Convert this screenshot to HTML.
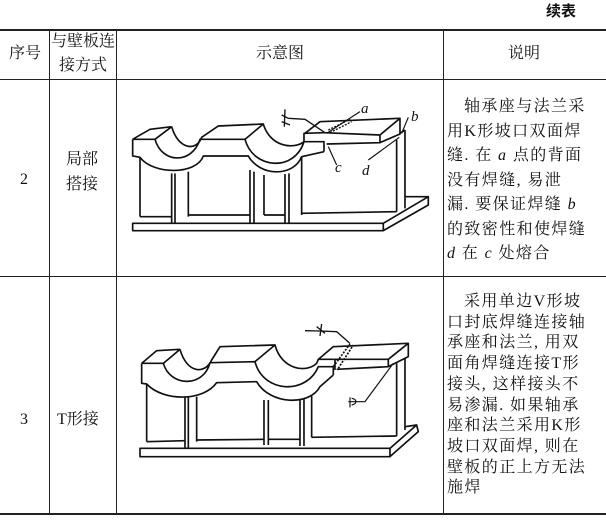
<!DOCTYPE html>
<html><head><meta charset="utf-8"><style>
body{margin:0;width:606px;height:520px;background:#fff;position:relative;overflow:hidden;font-family:"Liberation Serif","Noto Serif CJK SC","Noto Sans CJK SC",serif;color:#111}
.t{position:absolute;white-space:nowrap;line-height:1}
.h{position:absolute;background:#222}
</style></head><body>
<div class="t" style="left:546px;top:4px;font-size:15px;font-weight:bold;font-family:'Liberation Sans','Noto Sans CJK SC',sans-serif">续表</div>
<div class="h" style="left:0;top:29px;width:606px;height:2px"></div>
<div class="h" style="left:0;top:79px;width:606px;height:1px"></div>
<div class="h" style="left:0;top:276px;width:606px;height:1px"></div>
<div class="h" style="left:0;top:513px;width:606px;height:2px"></div>
<div class="h" style="left:49px;top:30px;width:1px;height:484px"></div>
<div class="h" style="left:116px;top:30px;width:1px;height:484px"></div>
<div class="h" style="left:443px;top:30px;width:1px;height:484px"></div>

<div class="t" style="left:9px;top:46px;font-size:16px">序号</div>
<div class="t" style="left:51px;top:34px;font-size:16px">与壁板连</div>
<div class="t" style="left:59px;top:58px;font-size:16px">接方式</div>
<div class="t" style="left:256px;top:46px;font-size:16px">示意图</div>
<div class="t" style="left:508px;top:46px;font-size:16px">说明</div>

<div class="t" style="left:20px;top:172px;font-size:16px">2</div>
<div class="t" style="left:66px;top:152px;font-size:16px">局部</div>
<div class="t" style="left:66px;top:177px;font-size:16px">搭接</div>
<div class="t" style="left:20px;top:412px;font-size:16px">3</div>
<div class="t" style="left:57px;top:412px;font-size:16px">T形接</div>

<div style="position:absolute;left:447px;top:95px;font-size:16px;line-height:24.5px;letter-spacing:1.4px;width:156px">
<div style="padding-left:17px">轴承座与法兰采</div>
<div>用K形坡口双面焊</div>
<div>缝. 在 <i>a</i> 点的背面</div>
<div>没有焊缝, 易泄</div>
<div>漏. 要保证焊缝 <i>b</i></div>
<div>的致密性和使焊缝</div>
<div><i>d</i> 在 <i>c</i> 处熔合</div>
</div>
<div style="position:absolute;left:447px;top:292px;font-size:16px;line-height:20.7px;letter-spacing:1.4px;width:156px">
<div style="padding-left:17px">采用单边V形坡</div>
<div>口封底焊缝连接轴</div>
<div>承座和法兰, 用双</div>
<div>面角焊缝连接T形</div>
<div>接头, 这样接头不</div>
<div>易渗漏. 如果轴承</div>
<div>座和法兰采用K形</div>
<div>坡口双面焊, 则在</div>
<div>壁板的正上方无法</div>
<div>施焊</div>
</div>

<svg width="606" height="520" style="position:absolute;left:0;top:0" fill="none" stroke="#111" stroke-width="5" stroke-linejoin="round">
<g transform="translate(120,80) scale(0.3333)">
<path d="M38,178 L38,228 L60,232 L60,410 M38,178 L90,148 L155,140 M38,178 L105,178 L155,140"/>
<path d="M105,178 C125,250 215,255 240,178 L375,178 C400,270 525,275 552,185 L612,185 L612,215"/>
<path d="M155,140 C175,210 230,215 245,172 L295,138 L430,132 L375,178 M430,132 C450,200 520,210 552,185 L552,160 L612,158"/>
<path d="M60,232 C100,285 230,285 250,228 L385,228 C420,290 520,292 545,230 L612,215"/>
<path d="M155,280 L155,430 M165,280 L165,430 M205,275 L205,410 M390,270 L390,430 M402,275 L402,430 M432,285 L432,405 M495,282 L495,430 M507,280 L507,430 M545,230 L545,405"/>
<path d="M60,410 L155,410 M205,405 L390,405 M432,405 L495,405 M545,400 L830,395"/>
<path d="M555,160 L600,125 L840,115 L840,162 L780,188 L620,192 M612,158 L780,165 L840,115 M780,165 L780,188"/>
<path d="M830,180 L830,395 M855,150 L855,385 M840,160 L855,150"/>
<path d="M38,430 L790,430 L790,452 L38,452 Z M790,430 L925,350 L925,375 L790,452 M855,350 L925,350"/>
<path d="M485,105 L505,115 L555,118 L615,158 M495,88 L493,140 M485,125 L510,135" stroke-width="4"/>
<path d="M720,95 L620,160 M865,112 L845,160 M650,255 L625,200 M745,240 L838,172" stroke-width="3.5"/>
<path d="M625,150 L690,118 M630,158 L695,125" stroke-width="4" stroke-dasharray="6,4"/>
</g>
<g font-family="Liberation Serif,serif" font-style="italic" font-size="15" fill="#111" stroke="none">
<text x="361" y="113">a</text><text x="411" y="121">b</text><text x="335" y="172">c</text><text x="362" y="175">d</text>
</g>
<g transform="translate(120,320) scale(0.3333)">
<path d="M65,130 L65,190 L80,192 L80,365 M65,130 L110,92 L180,88 M65,130 L130,130 L180,88"/>
<path d="M130,130 C150,200 250,205 270,128 L405,125 C430,220 560,225 595,140 L640,140 L640,165"/>
<path d="M180,88 C200,160 255,165 275,120 L300,80 L465,75 L405,125 M465,75 C485,150 560,160 590,130 L595,118 L640,118"/>
<path d="M80,192 C130,245 250,245 290,188 L410,185 C450,255 570,258 600,200 L640,165"/>
<path d="M195,230 L195,385 M205,230 L205,385 M230,230 L230,365 M432,240 L432,375 M445,240 L445,375 M540,240 L540,378 M552,238 L552,378 M575,228 L575,352"/>
<path d="M80,365 L195,362 M230,360 L432,358 M445,358 L540,358 M575,352 L830,348"/>
<path d="M595,118 L640,80 L865,70 L865,110 L805,140 L650,148 M640,118 L805,118 L865,70 M805,118 L805,140"/>
<path d="M830,130 L830,348 M855,115 L855,330 M645,120 L645,150"/>
<path d="M60,385 L810,385 L810,410 L60,410 Z M810,385 L890,315 L895,335 L810,410 M855,320 L890,315"/>
<path d="M555,32 L600,33 L650,35 L690,70 M605,12 L600,48 M590,20 L615,40" stroke-width="4"/>
<path d="M640,140 L690,72 M655,145 L700,75" stroke-width="5" stroke-dasharray="6,4"/>
<path d="M820,130 L735,245 L685,245 M690,232 L690,262 M695,235 C712,238 712,252 695,255" stroke-width="3.5"/>
</g>
</svg>
</body></html>
